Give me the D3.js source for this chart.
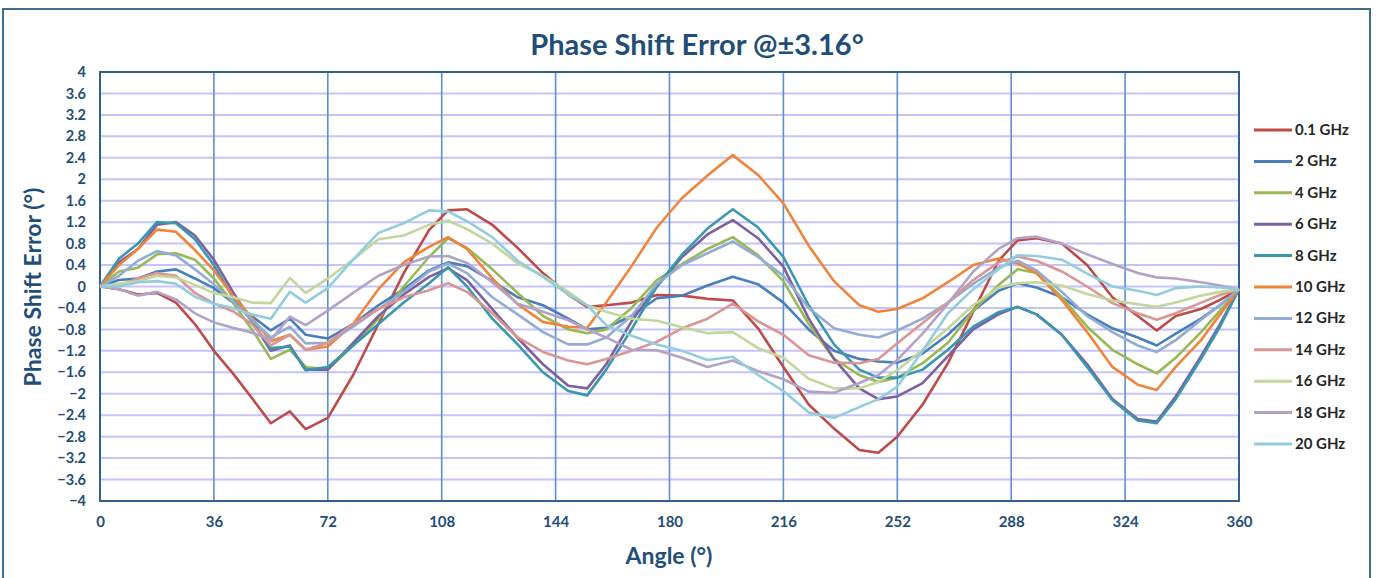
<!DOCTYPE html>
<html><head><meta charset="utf-8">
<script src="https://cdn.jsdelivr.net/npm/d3@7"></script>
<style>body{margin:0;background:#fff}svg{display:block}</style>
</head><body>
<svg id="c" width="1377" height="578"></svg>
<script>
const angles = [0,6,12,18,24,30,36,42,48,54,60,65,72,80,88,96,104,110,116,124,132,140,148,154,160,168,176,184,192,200,208,216,224,232,240,246,252,260,268,276,284,290,296,304,312,320,328,334,340,348,354,360];
const xTicks = [0,36,72,108,144,180,216,252,288,324,360];
const yTicks = [-4,-3.6,-3.2,-2.8,-2.4,-2,-1.6,-1.2,-0.8,-0.4,0,0.4,0.8,1.2,1.6,2,2.4,2.8,3.2,3.6,4];
const names = ["0.1 GHz","2 GHz","4 GHz","6 GHz","8 GHz","10 GHz","12 GHz","14 GHz","16 GHz","18 GHz","20 GHz"];
const colors = ["#be4b48","#4a7ebb","#98b954","#7d60a0","#3a97ad","#f0853a","#93acd4","#d99694","#c3d69b","#b3a2c7","#93cddd"];

const v01 = [0,-0.05,-0.15,-0.12,-0.3,-0.7,-1.2,-1.62,-2.08,-2.55,-2.33,-2.66,-2.45,-1.65,-0.7,0.25,1.05,1.42,1.44,1.15,0.72,0.25,-0.15,-0.38,-0.35,-0.3,-0.16,-0.17,-0.23,-0.26,-0.78,-1.5,-2.2,-2.65,-3.05,-3.1,-2.8,-2.2,-1.43,-0.47,0.48,0.86,0.9,0.8,0.4,-0.2,-0.55,-0.82,-0.55,-0.42,-0.25,-0.05];
const v2 = [0,0.12,0.15,0.28,0.32,0.15,-0.03,-0.3,-0.55,-0.82,-0.6,-0.9,-0.97,-0.7,-0.35,-0.05,0.3,0.45,0.38,0.1,-0.2,-0.35,-0.6,-0.8,-0.77,-0.55,-0.22,-0.17,0.02,0.18,0.04,-0.3,-0.8,-1.2,-1.35,-1.4,-1.42,-1.25,-0.9,-0.45,-0.08,0.06,-0.02,-0.2,-0.52,-0.78,-0.95,-1.1,-0.88,-0.6,-0.35,-0.05];
const v4 = [0,0.28,0.35,0.6,0.62,0.5,0.15,-0.3,-0.8,-1.35,-1.18,-1.5,-1.55,-1.1,-0.6,0.0,0.55,0.9,0.72,0.32,-0.12,-0.55,-0.8,-0.87,-0.8,-0.4,0.12,0.42,0.7,0.92,0.58,0.1,-0.7,-1.35,-1.65,-1.78,-1.7,-1.43,-1.05,-0.45,0.03,0.32,0.25,-0.2,-0.75,-1.18,-1.45,-1.62,-1.33,-0.85,-0.45,-0.05];
const v6 = [0,0.45,0.7,1.15,1.2,0.95,0.5,-0.1,-0.65,-1.2,-1.1,-1.55,-1.55,-1.05,-0.55,-0.15,0.18,0.34,0.12,-0.42,-0.96,-1.45,-1.85,-1.9,-1.45,-0.65,0.0,0.55,0.97,1.24,0.9,0.37,-0.6,-1.35,-1.9,-2.1,-2.05,-1.8,-1.3,-0.8,-0.52,-0.38,-0.52,-0.9,-1.45,-2.1,-2.47,-2.52,-2.05,-1.3,-0.7,-0.05];
const v8 = [0,0.52,0.8,1.2,1.18,0.88,0.4,-0.2,-0.65,-1.15,-1.12,-1.56,-1.5,-1.1,-0.7,-0.3,0.06,0.36,0.0,-0.6,-1.08,-1.6,-1.95,-2.03,-1.55,-0.8,0.0,0.6,1.08,1.44,1.1,0.55,-0.35,-1.08,-1.55,-1.7,-1.7,-1.55,-1.18,-0.75,-0.48,-0.38,-0.52,-0.9,-1.5,-2.12,-2.5,-2.55,-2.1,-1.35,-0.75,-0.05];
const v10 = [0,0.4,0.7,1.06,1.02,0.68,0.3,-0.17,-0.58,-1.02,-0.9,-1.18,-1.12,-0.7,-0.05,0.45,0.74,0.92,0.7,0.15,-0.33,-0.66,-0.75,-0.77,-0.3,0.38,1.1,1.65,2.07,2.45,2.08,1.55,0.76,0.1,-0.35,-0.47,-0.42,-0.22,0.08,0.4,0.52,0.43,0.25,-0.25,-0.85,-1.5,-1.83,-1.93,-1.5,-1.0,-0.52,-0.05];
const v12 = [0,0.2,0.48,0.66,0.58,0.32,0.04,-0.27,-0.62,-0.95,-0.75,-1.06,-1.05,-0.75,-0.42,-0.1,0.28,0.43,0.25,-0.2,-0.52,-0.85,-1.08,-1.08,-0.95,-0.55,0.05,0.4,0.62,0.84,0.55,0.2,-0.4,-0.78,-0.9,-0.95,-0.82,-0.6,-0.3,0.05,0.35,0.48,0.3,-0.1,-0.55,-0.85,-1.1,-1.22,-1.0,-0.62,-0.35,-0.05];
const v14 = [0,0.02,0.15,0.25,0.2,-0.12,-0.32,-0.46,-0.7,-1.1,-0.9,-1.18,-1.05,-0.7,-0.42,-0.2,-0.07,0.06,-0.1,-0.5,-0.95,-1.22,-1.38,-1.45,-1.35,-1.2,-1.03,-0.78,-0.6,-0.32,-0.65,-0.9,-1.28,-1.42,-1.43,-1.35,-1.06,-0.68,-0.3,0.12,0.45,0.56,0.48,0.28,0.0,-0.31,-0.5,-0.62,-0.5,-0.3,-0.16,-0.05];
const v16 = [0,0.05,0.1,0.2,0.17,0.03,-0.12,-0.2,-0.3,-0.31,0.16,-0.12,0.15,0.5,0.88,0.95,1.15,1.23,1.07,0.8,0.43,0.2,-0.1,-0.35,-0.47,-0.6,-0.64,-0.76,-0.87,-0.85,-1.15,-1.33,-1.72,-1.9,-1.9,-1.78,-1.56,-1.18,-0.78,-0.35,-0.02,0.06,0.08,0.02,-0.14,-0.26,-0.33,-0.38,-0.3,-0.17,-0.1,-0.05];
const v18 = [0,-0.05,-0.17,-0.1,-0.24,-0.5,-0.67,-0.77,-0.86,-1.0,-0.56,-0.72,-0.45,-0.12,0.2,0.4,0.56,0.57,0.44,0.08,-0.32,-0.47,-0.63,-0.8,-0.95,-1.18,-1.19,-1.33,-1.5,-1.38,-1.58,-1.73,-1.96,-1.98,-1.8,-1.65,-1.37,-0.88,-0.32,0.28,0.7,0.9,0.93,0.8,0.6,0.42,0.25,0.17,0.15,0.08,0.02,-0.05];
const v20 = [0,0.0,0.08,0.1,0.05,-0.19,-0.32,-0.4,-0.52,-0.6,-0.1,-0.3,-0.03,0.5,1.0,1.18,1.42,1.4,1.22,0.92,0.48,0.18,-0.15,-0.35,-0.72,-0.92,-1.08,-1.2,-1.37,-1.31,-1.65,-1.95,-2.35,-2.45,-2.25,-2.1,-1.87,-1.2,-0.5,-0.05,0.32,0.58,0.57,0.5,0.24,0.0,-0.08,-0.16,-0.03,0.0,-0.02,-0.05];
const seriesValues = [v01,v2,v4,v6,v8,v10,v12,v14,v16,v18,v20];

const svg = d3.select("#c");
const L = 100, R = 1239, T = 72, B = 501;
const x = d3.scaleLinear().domain([0,360]).range([L,R]);
const y = d3.scaleLinear().domain([-4,4]).range([B,T]);
const axisColor = "#1f4e79";
const font = "Lato, 'Open Sans', sans-serif";

// outer frame
svg.append("rect").attr("x",3).attr("y",9).attr("width",1367).attr("height",600)
  .attr("fill","none").attr("stroke","#3c6e91").attr("stroke-width",2);

// title
svg.append("text").attr("x",697).attr("y",55).attr("text-anchor","middle")
  .attr("font-family",font).attr("font-weight","bold").attr("font-size",29)
  .attr("fill",axisColor).text("Phase Shift Error @±3.16°");

// horizontal grid
svg.append("g").selectAll("line").data(yTicks).join("line")
  .attr("x1",L).attr("x2",R).attr("y1",d=>y(d)).attr("y2",d=>y(d))
  .attr("stroke","#c4c4fb").attr("stroke-width",2);
// vertical grid
svg.append("g").selectAll("line").data(xTicks).join("line")
  .attr("x1",d=>x(d)).attr("x2",d=>x(d)).attr("y1",T).attr("y2",B)
  .attr("stroke","#5a8fd8").attr("stroke-width",1.6);

// plot border
svg.append("rect").attr("x",L).attr("y",T).attr("width",R-L).attr("height",B-T)
  .attr("fill","none").attr("stroke","#2f6090").attr("stroke-width",2);

// axes (labels only)
const yAxis = d3.axisLeft(y).tickValues(yTicks).tickSize(0).tickPadding(14)
  .tickFormat(d=>d3.format("~g")(+d.toFixed(1)));
const gy = svg.append("g").attr("transform",`translate(${L},0)`).call(yAxis);
gy.select(".domain").remove();
gy.selectAll("text").attr("font-family",font).attr("font-weight","bold").attr("font-size",14.5).attr("fill",axisColor);

const xAxis = d3.axisBottom(x).tickValues(xTicks).tickSize(0).tickPadding(15).tickFormat(d3.format("d"));
const gx = svg.append("g").attr("transform",`translate(0,${B})`).call(xAxis);
gx.select(".domain").remove();
gx.selectAll("text").attr("font-family",font).attr("font-weight","bold").attr("font-size",15).attr("fill",axisColor);

// axis titles
svg.append("text").attr("transform","translate(41,287) rotate(-90)").attr("text-anchor","middle")
  .attr("font-family",font).attr("font-weight","bold").attr("font-size",23).attr("fill",axisColor)
  .text("Phase Shift Error (°)");
svg.append("text").attr("x",669).attr("y",564).attr("text-anchor","middle")
  .attr("font-family",font).attr("font-weight","bold").attr("font-size",23).attr("fill",axisColor)
  .text("Angle (°)");

// lines
const line = d3.line().x((d,i)=>x(angles[i])).y(d=>y(d));
svg.append("g").selectAll("path").data(seriesValues).join("path")
  .attr("d",d=>line(d)).attr("fill","none")
  .attr("stroke",(d,i)=>colors[i]).attr("stroke-width",2.6).attr("stroke-linejoin","round");

// legend
const leg = svg.append("g").selectAll("g").data(names).join("g")
  .attr("transform",(d,i)=>`translate(1254,${130+i*31.4})`);
leg.append("line").attr("x1",0).attr("x2",38).attr("y1",0).attr("y2",0)
  .attr("stroke",(d,i)=>colors[i]).attr("stroke-width",3);
leg.append("text").attr("x",41).attr("y",5).attr("font-family",font).attr("font-weight","bold")
  .attr("font-size",15).attr("fill","#262626").text(d=>d);
</script>
</body></html>
